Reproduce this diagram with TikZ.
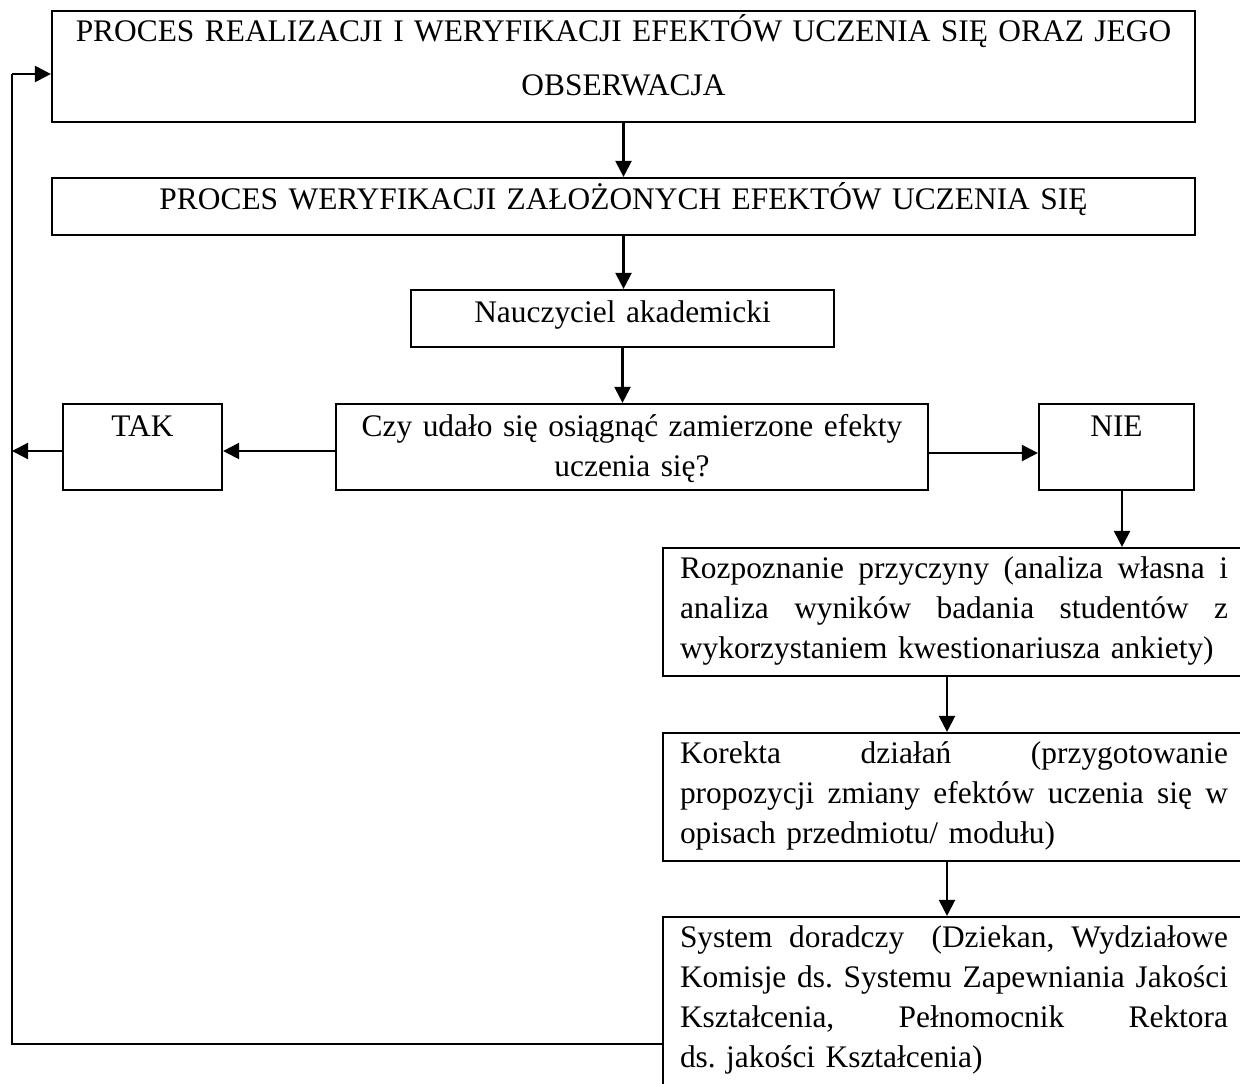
\documentclass[tikz,border=0pt]{standalone}
\usepackage{fontspec}
\setmainfont{Liberation Serif}
\frenchspacing
\usetikzlibrary{arrows.meta}
\newcommand\jl[1]{\leavevmode\hbox to 274pt{#1}}
\tikzset{
  box/.style={draw, line width=1.1pt, inner xsep=0pt, inner ysep=0pt,
    font=\fontsize{15.7pt}{20pt}\selectfont, align=center},
  jbox/.style={box, align=left, inner xsep=8.5pt, text width=274pt, text height=15pt},
  conn/.style={line width=1.1pt, line join=miter},
  arr/.style={conn, -{Triangle[length=8pt,width=8pt]}}
}
\begin{document}
\begin{tikzpicture}[x=0.5pt,y=-0.5pt]
\useasboundingbox (0,0) rectangle (1240,1083);
\clip (0,0) rectangle (1240,1083);
\node[box, text width=571.5pt, text height=15pt, text depth=40.5pt,
  font=\fontsize{15.7pt}{27pt}\selectfont] (b1) at (623.5,66.5)
  {PROCES REALIZACJI I WERYFIKACJI EFEKTÓW UCZENIA SIĘ ORAZ JEGO\\OBSERWACJA};
\node[box, text width=571.5pt, text height=15.5pt, text depth=13pt] (b2) at (623.5,206.5)
  {PROCES WERYFIKACJI ZAŁOŻONYCH EFEKTÓW UCZENIA SIĘ};
\node[box, text width=211.5pt, text height=16pt, text depth=12.5pt] (b3) at (622.5,318.5)
  {Nauczyciel akademicki};
\node[box, text width=296pt, text height=16pt, text depth=27pt] (b4) at (632,447)
  {Czy udało się osiągnąć zamierzone efekty\\uczenia się?};
\node[box, text width=79.5pt, text height=16pt, text depth=27pt] (tak) at (142.5,447) {TAK};
\node[box, text width=77.5pt, text height=16pt, text depth=27pt] (nie) at (1116.5,447) {NIE};
\node[jbox, text depth=49pt] (b5) at (954,612)
  {\jl{Rozpoznanie \hfill przyczyny \hfill (analiza \hfill własna \hfill i}\\
   \jl{analiza \hfill wyników \hfill badania \hfill studentów \hfill z}\\
   wykorzystaniem kwestionariusza ankiety)};
\node[jbox, text depth=49pt] (b6) at (954,797)
  {\jl{Korekta\hfill działań\hfill (przygotowanie}\\
   \jl{propozycji \hfill zmiany \hfill efektów \hfill uczenia \hfill się \hfill w}\\
   opisach przedmiotu/ modułu)};
\node[jbox, text depth=76.5pt] (b7) at (954,1008.5)
  {\jl{System \hfill doradczy \ \hfill (Dziekan, \hfill Wydziałowe}\\
   \jl{Komisje \hfill ds. \hfill Systemu \hfill Zapewniania \hfill Jakości}\\
   \jl{Kształcenia,\hfill Pełnomocnik\hfill Rektora}\\
   ds. jakości Kształcenia)};
\coordinate (lt) at (12,74);
\coordinate (lb) at (12,1044);
\draw[arr] (b1.south) -- (b2.north);
\draw[arr] (b2.south) -- (b2.south |- b3.north);
\draw[arr] (b3.south) -- (b3.south |- b4.north);
\draw[arr] ([yshift=-2pt]b4.west) -- ([yshift=-2pt]tak.east);
\draw[arr] ([yshift=-2pt]tak.west) -- ([yshift=-2pt]tak.west -| lt);
\draw[arr] ([yshift=-3pt]b4.east) -- ([yshift=-3pt]nie.west);
\draw[arr] ([xshift=2.75pt]nie.south) -- ([xshift=2.75pt]nie.south |- b5.north);
\draw[arr] ([xshift=-3.5pt]b5.south) -- ([xshift=-3.5pt]b6.north);
\draw[arr] ([xshift=-3.5pt]b6.south) -- ([xshift=-3.5pt]b7.north);
\draw[conn] (b7.west |- lb) -- (lb) -- (lt);
\draw[arr] (lt) -- (lt -| b1.west);
\end{tikzpicture}
\end{document}
